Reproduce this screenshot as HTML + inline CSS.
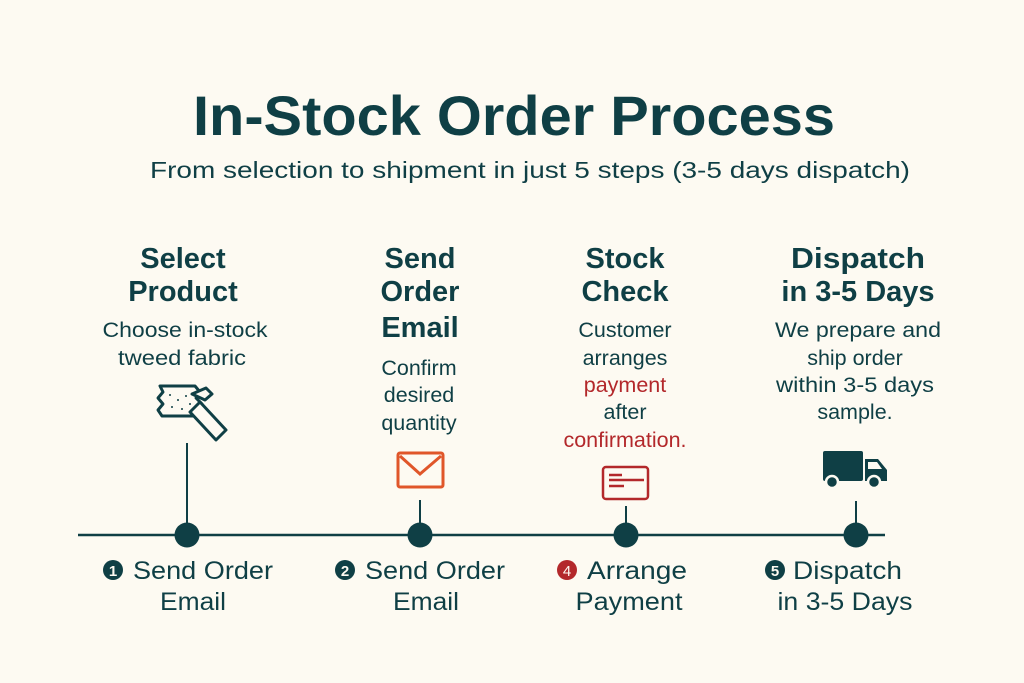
<!DOCTYPE html>
<html><head><meta charset="utf-8"><style>
html,body{margin:0;padding:0;background:#fdfaf2;}
svg{display:block}
text{font-family:"Liberation Sans",sans-serif;fill:#0f3f45;}
.h{font-weight:bold;font-size:29px;}
.d{font-size:21.5px;}
.b{font-size:25px;}
.r{fill:#b3282b;}
</style></head><body>
<svg width="1024" height="683" viewBox="0 0 1024 683" xmlns="http://www.w3.org/2000/svg">
<rect width="1024" height="683" fill="#fdfaf2"/>
<text x="514" y="135" text-anchor="middle" font-size="56" font-weight="bold" textLength="642" lengthAdjust="spacingAndGlyphs">In-Stock Order Process</text>
<text x="530" y="178" text-anchor="middle" font-size="23" textLength="760" lengthAdjust="spacingAndGlyphs">From selection to shipment in just 5 steps (3-5 days dispatch)</text>

<!-- column 1 -->
<text class="h" x="183" y="268" text-anchor="middle">Select</text>
<text class="h" x="183" y="301" text-anchor="middle">Product</text>
<text class="d" x="185" y="337" text-anchor="middle" textLength="165" lengthAdjust="spacingAndGlyphs">Choose in-stock</text>
<text class="d" x="182" y="365" text-anchor="middle" textLength="128" lengthAdjust="spacingAndGlyphs">tweed fabric</text>
<g fill="none" stroke="#0f3f45" stroke-width="3" stroke-linejoin="round">
<path d="M160 386 L195 386 L200 392 L196 398 L202 404 L196 410 L200 416 L162 416 L158 410 L163 404 L158 398 L163 392 Z" fill="#fdfaf2"/>
<path d="M190 412 L200 402 L226 430 L216 440 Z" fill="#fdfaf2"/>
<path d="M192 394 L206 388 L212 394 L205 400 Z" fill="#fdfaf2"/>
</g>
<g fill="#0f3f45"><circle cx="170" cy="395" r="1"/><circle cx="178" cy="400" r="1"/><circle cx="186" cy="396" r="1"/><circle cx="172" cy="407" r="1"/><circle cx="182" cy="409" r="1"/><circle cx="190" cy="404" r="1"/></g>
<line x1="187" y1="443" x2="187" y2="535" stroke="#0f3f45" stroke-width="2"/>

<!-- column 2 -->
<text class="h" x="420" y="268" text-anchor="middle">Send</text>
<text class="h" x="420" y="301" text-anchor="middle">Order</text>
<text class="h" x="420" y="337" text-anchor="middle">Email</text>
<text class="d" x="419" y="375" text-anchor="middle">Confirm</text>
<text class="d" x="419" y="402" text-anchor="middle">desired</text>
<text class="d" x="419" y="430" text-anchor="middle">quantity</text>
<rect x="398" y="453" width="45" height="34" rx="2" fill="none" stroke="#e0562a" stroke-width="3"/>
<path d="M400 456 L420 474 L441 456" fill="none" stroke="#e0562a" stroke-width="3"/>
<line x1="420" y1="500" x2="420" y2="535" stroke="#0f3f45" stroke-width="2"/>

<!-- column 3 -->
<text class="h" x="625" y="268" text-anchor="middle">Stock</text>
<text class="h" x="625" y="301" text-anchor="middle">Check</text>
<text class="d" x="625" y="337" text-anchor="middle">Customer</text>
<text class="d" x="625" y="365" text-anchor="middle">arranges</text>
<text class="d r" x="625" y="392" text-anchor="middle">payment</text>
<text class="d" x="625" y="419" text-anchor="middle">after</text>
<text class="d r" x="625" y="447" text-anchor="middle">confirmation.</text>
<rect x="603" y="467" width="45" height="32" rx="3" fill="none" stroke="#b3282b" stroke-width="2.5"/>
<line x1="609" y1="475" x2="622" y2="475" stroke="#b3282b" stroke-width="2.5"/>
<line x1="609" y1="480" x2="644" y2="480" stroke="#b3282b" stroke-width="2.5"/>
<line x1="609" y1="486" x2="624" y2="486" stroke="#b3282b" stroke-width="2.5"/>
<line x1="626" y1="506" x2="626" y2="535" stroke="#0f3f45" stroke-width="2"/>

<!-- column 4 -->
<text class="h" x="858" y="268" text-anchor="middle" textLength="134" lengthAdjust="spacingAndGlyphs">Dispatch</text>
<text class="h" x="858" y="301" text-anchor="middle">in 3-5 Days</text>
<text class="d" x="858" y="337" text-anchor="middle" textLength="166" lengthAdjust="spacingAndGlyphs">We prepare and</text>
<text class="d" x="855" y="365" text-anchor="middle">ship order</text>
<text class="d" x="855" y="392" text-anchor="middle" textLength="158" lengthAdjust="spacingAndGlyphs">within 3-5 days</text>
<text class="d" x="855" y="419" text-anchor="middle">sample.</text>
<g fill="#0f3f45">
<rect x="823" y="451" width="40" height="30" rx="2"/>
<path d="M865 459 L878 459 L887 470 L887 481 L865 481 Z"/>
<circle cx="832" cy="482" r="6" stroke="#fdfaf2" stroke-width="2.5"/>
<circle cx="874" cy="482" r="6" stroke="#fdfaf2" stroke-width="2.5"/>
</g>
<path d="M868 462 L877 462 L882 469 L868 469 Z" fill="#fdfaf2"/>
<line x1="856" y1="501" x2="856" y2="535" stroke="#0f3f45" stroke-width="2"/>

<!-- timeline -->
<line x1="78" y1="535" x2="885" y2="535" stroke="#0f3f45" stroke-width="2.5"/>
<circle cx="187" cy="535" r="12.5" fill="#0f3f45"/>
<circle cx="420" cy="535" r="12.5" fill="#0f3f45"/>
<circle cx="626" cy="535" r="12.5" fill="#0f3f45"/>
<circle cx="856" cy="535" r="12.5" fill="#0f3f45"/>

<!-- bottom labels -->
<circle cx="113" cy="570" r="10" fill="#0f3f45"/><text x="113" y="576" text-anchor="middle" font-size="15" font-weight="bold" style="fill:#fdfaf2">1</text>
<text class="b" x="133" y="579" textLength="140" lengthAdjust="spacingAndGlyphs">Send Order</text>
<text class="b" x="193" y="610" text-anchor="middle" textLength="66" lengthAdjust="spacingAndGlyphs">Email</text>

<circle cx="345" cy="570" r="10" fill="#0f3f45"/><text x="345" y="576" text-anchor="middle" font-size="15" font-weight="bold" style="fill:#fdfaf2">2</text>
<text class="b" x="365" y="579" textLength="140" lengthAdjust="spacingAndGlyphs">Send Order</text>
<text class="b" x="426" y="610" text-anchor="middle" textLength="66" lengthAdjust="spacingAndGlyphs">Email</text>

<circle cx="567" cy="570" r="10" fill="#b3282b"/><text x="567" y="576" text-anchor="middle" font-size="15" style="fill:#fdfaf2">4</text>
<text class="b" x="587" y="579" textLength="100" lengthAdjust="spacingAndGlyphs">Arrange</text>
<text class="b" x="629" y="610" text-anchor="middle" textLength="107" lengthAdjust="spacingAndGlyphs">Payment</text>

<circle cx="775" cy="570" r="10" fill="#0f3f45"/><text x="775" y="576" text-anchor="middle" font-size="15" font-weight="bold" style="fill:#fdfaf2">5</text>
<text class="b" x="793" y="579" textLength="109" lengthAdjust="spacingAndGlyphs">Dispatch</text>
<text class="b" x="845" y="610" text-anchor="middle" textLength="135" lengthAdjust="spacingAndGlyphs">in 3-5 Days</text>
</svg>
</body></html>
